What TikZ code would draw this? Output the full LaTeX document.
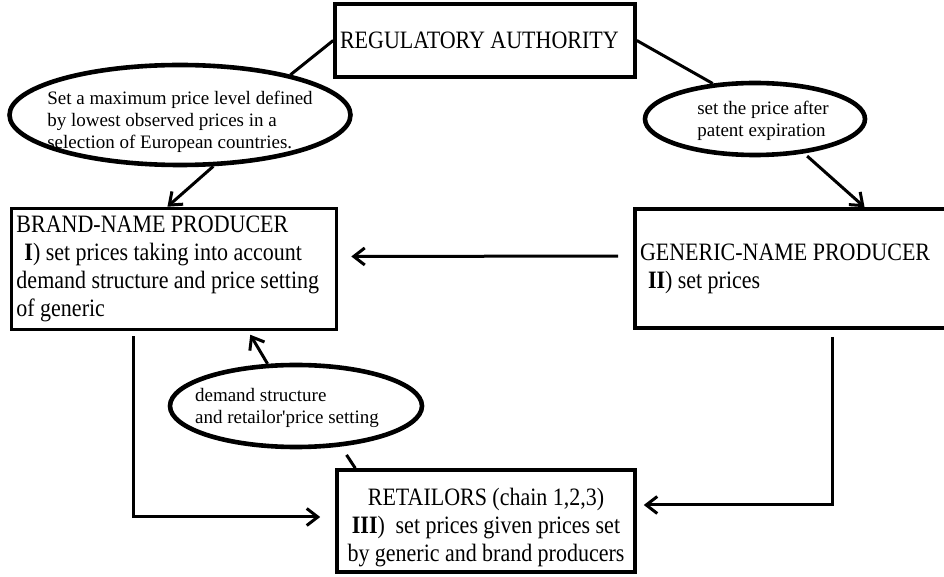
\documentclass[tikz,border=0pt]{standalone}
\usepackage{fontspec}
\setmainfont{Liberation Serif}[FakeStretch=0.88]
\newfontfamily\ovalfont{Liberation Serif}
\usetikzlibrary{shapes.geometric,arrows.meta}
\newcommand\boxfont{\fontsize{12.5}{14}\selectfont\spaceskip=2.7pt plus 1pt minus 0.5pt\relax}

\begin{document}
\begin{tikzpicture}[x=0.5pt,y=-0.5pt,
  box/.style={draw,line width=1.8pt,rectangle,inner xsep=2.5pt,inner ysep=0pt,font=\boxfont},
  boxtext/.style={font=\boxfont,align=center,inner sep=0pt},
  oval/.style={draw,line width=2.3pt,ellipse,inner sep=0pt},
  ovaltext/.style={font=\ovalfont\fontsize{9.5}{11}\selectfont,align=left,inner sep=0pt},
  link/.style={line width=1.5pt},
  arr/.style={link,-{Straight Barb[length=5.5pt,width=8.5pt]}}]
\useasboundingbox (0,0) rectangle (944,577);

% boxes
\node[box,minimum width=150pt,minimum height=36.5pt,text width=145pt,align=flush left] (reg) at (485,40.5) {REGULATORY AUTHORITY};

\node[box,minimum width=162.5pt,minimum height=60.5pt,text width=157.5pt,align=flush left] (brand) at (174,269)
  {BRAND-NAME PRODUCER\\ \hspace*{4pt}\textbf{I}) set prices taking into account\\ demand structure and price setting\\ of generic};

\node[box,minimum width=156.5pt,minimum height=59.5pt,text width=151.5pt,align=flush left] (gen) at (791.5,268.5)
  {GENERIC-NAME PRODUCER\\ \hspace*{4pt}\textbf{II}) set prices};

\node[box,minimum width=149pt,minimum height=51pt,
  label={[boxtext,yshift=-3.5pt]center:{RETAILORS (chain 1,2,3)\\ \textbf{III})\ \ set prices given prices set\\ by generic and brand producers}}] (ret) at (486,521) {};

% ellipses
\node[oval,minimum width=170.5pt,minimum height=50pt,
  label={[ovaltext,yshift=-3.5pt]center:Set a maximum price level defined\\by lowest observed prices in a\\selection of European countries.}] (e1) at (180,115) {};

\node[oval,minimum width=110pt,minimum height=36pt,
  label={[ovaltext,xshift=4pt,yshift=-1pt]center:set the price after\\patent expiration}] (e2) at (755,119) {};

\node[oval,minimum width=126pt,minimum height=41pt,
  label={[ovaltext,xshift=-4.5pt,yshift=-0.75pt]center:demand structure\\and retailor'price setting}] (e3) at (296,406) {};

% connectors
\draw[link] (reg.west) -- (e1.20);
\draw[arr] (e1.-57) -- (brand.96);
\draw[link] (reg.east) -- (e2.140);
\draw[arr,shorten <=2pt] (e2.-35) -- (gen.40);
\draw[arr,shorten <=7.5pt,shorten >=6.5pt] ([yshift=6.25pt]gen.west) -- ([yshift=6.25pt]brand.east);
\draw[arr,shorten <=2.5pt,shorten >=7.5pt] ([xshift=-20.5pt]brand.south) |- ([yshift=2pt]ret.west);
\draw[arr,shorten <=3.5pt,shorten >=3.5pt] ([xshift=20.25pt]gen.south) |- ([yshift=8pt]ret.east);
\draw[link,shorten >=5pt] (ret.158) -- (e3.-42);
\draw[arr,shorten >=2pt] (e3.124) -- (brand.-40);
\end{tikzpicture}
\end{document}
